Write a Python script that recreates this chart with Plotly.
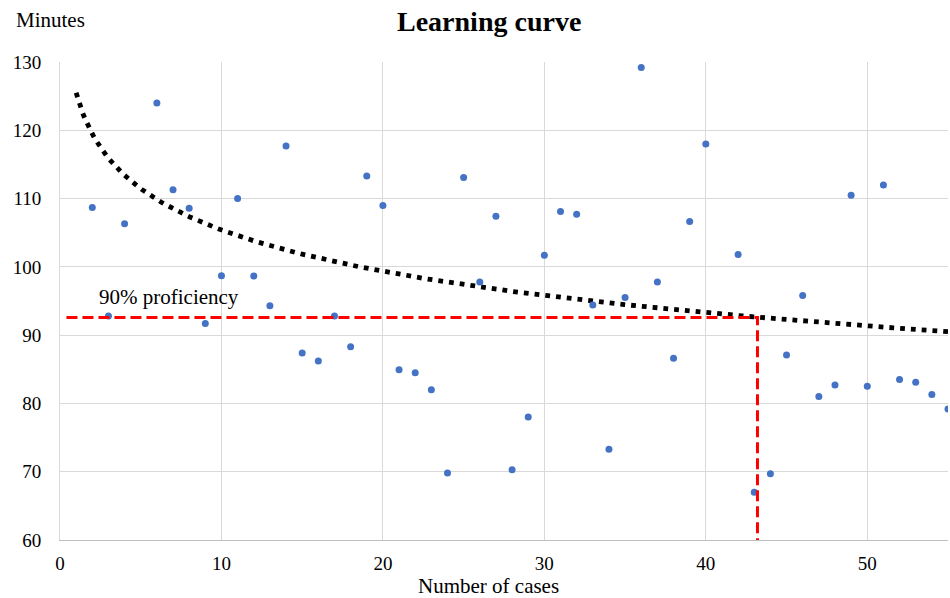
import numpy as np
import plotly.graph_objects as go

# Cases (x) and minutes (y)
cases = [2, 3, 4, 6, 7, 8, 9, 10, 11, 12, 13, 14, 15, 16, 17, 18, 19, 20,
         21, 22, 23, 24, 25, 26, 27, 28, 29, 30, 31, 32, 33, 34, 35, 36, 37,
         38, 39, 40, 42, 43, 44, 45, 46, 47, 48, 49, 50, 51, 52, 53, 54, 55]
minutes = [108.7, 92.8, 106.3, 124.0, 111.3, 108.6, 91.7, 98.7, 110.0, 98.65,
           94.3, 117.7, 87.4, 86.2, 92.8, 88.3, 113.3, 109.0, 84.95, 84.5,
           82.0, 69.8, 113.1, 97.8, 107.4, 70.3, 78.0, 101.7, 108.1, 107.7,
           94.4, 73.3, 95.5, 129.2, 97.8, 86.6, 106.65, 118.0, 101.8, 67.0,
           69.7, 87.1, 95.8, 81.0, 82.7, 110.5, 82.5, 112.0, 83.5, 83.1,
           81.3, 79.2]

# Logarithmic trendline coefficients: y = A - B*ln(x)
TREND_A = 125.5
TREND_B = 8.73
TREND_X_START = 1
TREND_X_END = 55

# 90% proficiency marker
PROF_X = 43.2
PROF_Y = 92.6
PROF_X_START = 0.4
Y_MIN, Y_MAX = 60, 130
X_MIN, X_MAX = 0, 55

FONT = "Liberation Serif, Times New Roman, serif"

trend_x = np.linspace(TREND_X_START, TREND_X_END, 400)
trend_y = TREND_A - TREND_B * np.log(trend_x)

fig = go.Figure()

fig.add_trace(go.Scatter(
    x=trend_x, y=trend_y, mode="lines",
    line=dict(color="black", width=4.8, dash="4.8px,6px"),
    hoverinfo="skip", showlegend=False,
))

fig.add_trace(go.Scatter(
    x=cases, y=minutes, mode="markers",
    marker=dict(color="#4472C4", size=7),
    showlegend=False,
))

fig.add_trace(go.Scatter(
    x=[PROF_X_START, PROF_X, PROF_X], y=[PROF_Y, PROF_Y, Y_MIN],
    mode="lines",
    line=dict(color="#FF0000", width=3, dash="11px,5px"),
    hoverinfo="skip", showlegend=False,
))

fig.update_layout(
    width=950, height=598,
    margin=dict(l=60, r=2, t=62, b=58, autoexpand=False),
    paper_bgcolor="white", plot_bgcolor="white",
    font=dict(family=FONT, size=19, color="black"),
    xaxis=dict(
        range=[X_MIN, X_MAX], tickmode="array", tickvals=[0, 10, 20, 30, 40, 50],
        showgrid=True, gridcolor="#d9d9d9", gridwidth=1,
        zeroline=False, showline=True, linecolor="#bfbfbf", linewidth=1,
        ticks="", ticklabelstandoff=6,
        tickfont=dict(family=FONT, size=19, color="black"),
    ),
    yaxis=dict(
        range=[Y_MIN, Y_MAX], tickmode="array",
        tickvals=[60, 70, 80, 90, 100, 110, 120, 130],
        showgrid=True, gridcolor="#d9d9d9", gridwidth=1,
        zeroline=False, showline=True, linecolor="#d9d9d9", linewidth=1,
        ticks="", ticklabelstandoff=14,
        tickfont=dict(family=FONT, size=19, color="black"),
    ),
    annotations=[
        dict(text="<b>Learning curve</b>", xref="paper", yref="paper",
             x=(489 - 60) / 888, y=1 + (62 - 21) / 478, xanchor="center", yanchor="middle",
             showarrow=False, font=dict(family=FONT, size=28, color="black")),
        dict(text="Minutes", xref="paper", yref="paper",
             x=-(60 - 14) / 888, y=1 + (62 - 20) / 478, xanchor="left", yanchor="middle",
             showarrow=False, font=dict(family=FONT, size=21, color="black")),
        dict(text="Number of cases", xref="paper", yref="paper",
             x=(488 - 60) / 888, y=-(586 - 540) / 478, xanchor="center", yanchor="middle",
             showarrow=False, font=dict(family=FONT, size=21, color="black")),
        dict(text="90% proficiency", xref="x", yref="y",
             x=2.3, y=95.6, xanchor="left", yanchor="middle",
             showarrow=False, font=dict(family=FONT, size=21, color="black")),
    ],
)

fig.write_html(
    "out.html",
    config={"displayModeBar": False},
    post_script="document.body.style.margin='0';document.body.style.overflow='hidden';",
)
